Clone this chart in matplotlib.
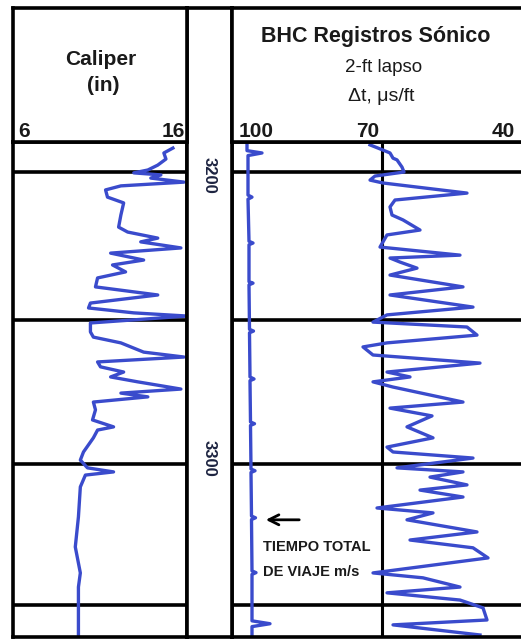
import matplotlib
matplotlib.use("Agg")
import matplotlib.pyplot as plt
from matplotlib.transforms import blended_transform_factory

plt.rcParams['font.family'] = ['Liberation Sans', 'DejaVu Sans']

W, H = 521, 640
BLUE = '#3a4bcc'
INK = '#1a1a1a'
LW = 2.6
CLW = 2.4

# caliper (in) vs depth (ft)
cal_depth = [3191.7, 3193.4, 3195.5, 3197.6, 3199.3, 3200.3, 3201.0, 3202.1, 3203.5, 3204.8,
             3206.2, 3208.7, 3210.7, 3214.9, 3219.1, 3220.8, 3222.9, 3224.2, 3226.3, 3228.1,
             3230.5, 3232.2, 3234.6, 3236.7, 3239.8, 3242.6, 3245.4, 3247.1, 3248.8, 3249.9,
             3252.3, 3255.4, 3257.2, 3259.2, 3262.4, 3264.1, 3265.8, 3267.5, 3269.3, 3271.0,
             3272.7, 3275.2, 3276.6, 3277.9, 3279.7, 3282.4, 3285.9, 3288.3, 3289.4, 3292.1,
             3297.0, 3299.8, 3302.5, 3303.9, 3305.0, 3309.1, 3319.5, 3329.9, 3338.9, 3343.8,
             3361.1]
cal_in = [15.19, 14.67, 14.79, 14.32, 13.75, 12.94, 14.5, 13.92, 15.83, 12.2,
          11.32, 11.43, 12.36, 12.2, 12.07, 12.59, 14.32, 13.34, 15.65, 11.61,
          13.51, 11.72, 12.47, 10.86, 10.74, 14.32, 10.45, 10.34, 12.94, 16.0,
          10.45, 10.45, 10.62, 12.2, 13.51, 15.83, 10.86, 11.03, 12.36, 11.61,
          13.17, 15.65, 12.2, 13.75, 10.62, 10.74, 10.57, 11.78, 10.86, 10.62,
          10.05, 9.87, 10.28, 11.78, 10.16, 9.87, 9.76, 9.58, 9.87, 9.76,
          9.76]

# sonic delta-t (us/ft) vs depth
dt_depth = [3190.6, 3192.4, 3193.4, 3195.2, 3195.8, 3198.3, 3200.0, 3201.4, 3202.8, 3203.8,
            3207.3, 3209.7, 3212.1, 3214.9, 3216.6, 3220.1, 3221.8, 3226.0, 3228.8, 3229.8,
            3231.2, 3233.3, 3235.7, 3239.8, 3242.6, 3246.8, 3249.5, 3252.0, 3253.7, 3256.5,
            3259.2, 3260.6, 3263.4, 3266.2, 3269.3, 3271.0, 3272.7, 3274.5, 3279.7, 3281.8,
            3284.5, 3288.3, 3292.1, 3295.3, 3297.0, 3299.1, 3302.5, 3303.9, 3305.7, 3308.4,
            3310.2, 3312.6, 3316.4, 3318.1, 3320.5, 3324.7, 3327.5, 3330.2, 3333.7, 3338.9,
            3340.6, 3343.8, 3345.8, 3348.3, 3351.0, 3355.2, 3356.9, 3360.4]
dt_us = [72.4, 69.8, 68.4, 67.8, 67.0, 66.0, 65.6, 71.4, 72.4, 69.8,
         53.0, 67.4, 68.4, 68.0, 65.8, 62.4, 69.0, 70.4, 54.4, 68.4,
         66.4, 63.0, 68.4, 53.8, 68.4, 51.8, 69.0, 71.8, 53.0, 51.0,
         69.0, 73.8, 71.8, 50.4, 69.0, 64.4, 71.8, 67.8, 53.8, 68.4,
         60.0, 65.0, 59.8, 69.0, 67.8, 51.8, 67.0, 53.8, 60.4, 53.0,
         62.4, 53.8, 71.0, 59.8, 65.0, 51.0, 64.4, 51.8, 48.8, 71.8,
         61.8, 54.4, 69.0, 54.4, 49.8, 49.0, 67.8, 50.4]

# integrated travel time trace with pips, drawn on the delta-t scale
ttt_depth = [3190.6, 3192.6, 3193.4, 3194.3, 3208.0, 3208.7, 3209.4, 3224.0, 3224.6, 3225.2,
             3238.0, 3238.5, 3239.1, 3254.5, 3255.1, 3255.7, 3271.0, 3271.7, 3272.3, 3286.6,
             3287.2, 3287.8, 3302.9, 3303.5, 3304.1, 3319.2, 3319.8, 3320.4, 3338.2, 3338.8,
             3339.4, 3355.5, 3356.5, 3357.5, 3361.1]
ttt_val = [97.0, 97.0, 94.0, 96.8, 96.8, 96.0, 96.8, 96.6, 95.8, 96.6,
           96.6, 95.8, 96.6, 96.5, 95.7, 96.5, 96.4, 95.6, 96.4, 96.3,
           95.5, 96.3, 96.2, 95.4, 96.2, 96.1, 95.3, 96.1, 96.0, 95.2,
           96.0, 96.0, 92.4, 96.0, 96.0]

grid_depths = [3200, 3251.3, 3301.2, 3350]
depth_labels = ['3200', '3300']
depth_label_pos = [3201.3, 3299.1]
cal_ticks = ['6', '16']
dt_ticks = ['100', '70', '40']

DEPTH_LIM = (3361.1, 3189.6)


def rect(x0, y0, x1, y1):
    return [x0 / W, 1 - y1 / H, (x1 - x0) / W, (y1 - y0) / H]


def frame(ax):
    ax.set_xticks([])
    ax.set_yticks([])
    for s in ax.spines.values():
        s.set_linewidth(LW)
        s.set_color('k')


fig = plt.figure(figsize=(W / 100, H / 100), dpi=100)

# caliper track
ax_cal = fig.add_axes(rect(13, 142, 187, 637))
frame(ax_cal)
for d in grid_depths:
    ax_cal.axhline(d, color='k', lw=LW)
ax_cal.plot(cal_in, cal_depth, color=BLUE, lw=CLW, solid_joinstyle='round')
ax_cal.set_xlim(6, 16)
ax_cal.set_ylim(*DEPTH_LIM)

# sonic track (right edge runs past the picture)
ax_dt = fig.add_axes(rect(232, 142, 532, 637))
frame(ax_dt)
for d in grid_depths:
    ax_dt.axhline(d, color='k', lw=LW)
ax_dt.axvline(70, color='k', lw=LW * 0.85)
ax_dt.plot(dt_us, dt_depth, color=BLUE, lw=CLW, solid_joinstyle='round')
ax_dt.plot(ttt_val, ttt_depth, color=BLUE, lw=CLW, solid_joinstyle='round')
ax_dt.set_xlim(100, 40)
ax_dt.set_ylim(*DEPTH_LIM)

ax_dt.annotate('', xy=(93.8, 3320.5), xytext=(86.0, 3320.5),
               arrowprops=dict(arrowstyle='->', lw=2.0, color='k', mutation_scale=18))
ax_dt.text(93.8, 3329.9, 'TIEMPO TOTAL', fontsize=10.5, weight='bold', color=INK,
           ha='left', va='center')
ax_dt.text(93.8, 3338.6, 'DE VIAJE m/s', fontsize=10.5, weight='bold', color=INK,
           ha='left', va='center')

# depth column
ax_dep = fig.add_axes(rect(187, 8, 232, 637))
frame(ax_dep)
tr = blended_transform_factory(ax_dep.transAxes, ax_cal.transData)
for lab, d in zip(depth_labels, depth_label_pos):
    ax_dep.text(0.5, d, lab, transform=tr, rotation=-90, ha='center', va='center',
                fontsize=12, weight='bold', color='#1c2340')

# headers
ax_h1 = fig.add_axes(rect(13, 8, 187, 142))
frame(ax_h1)
ax_h2 = fig.add_axes(rect(232, 8, 532, 142))
frame(ax_h2)


def ftext(x, y, s, **kw):
    fig.text(x / W, 1 - y / H, s, color=INK, va='baseline', **kw)


ftext(101, 65, 'Caliper', ha='center', fontsize=15, weight='bold')
ftext(103, 91, '(in)', ha='center', fontsize=15, weight='bold')
ftext(18, 137, cal_ticks[0], ha='left', fontsize=15, weight='bold')
ftext(185, 137, cal_ticks[1], ha='right', fontsize=15, weight='bold')

ftext(376, 42, 'BHC Registros Sónico', ha='center', fontsize=15.5, weight='bold')
ftext(384, 72, '2-ft lapso', ha='center', fontsize=13.5)
ftext(381, 101, 'Δt, μs/ft', ha='center', fontsize=14)
tick_px = [256, 368, 503]
for lab, xp in zip(dt_ticks, tick_px):
    ftext(xp, 137, lab, ha='center', fontsize=15, weight='bold')

fig.savefig('out.png', dpi=100)
